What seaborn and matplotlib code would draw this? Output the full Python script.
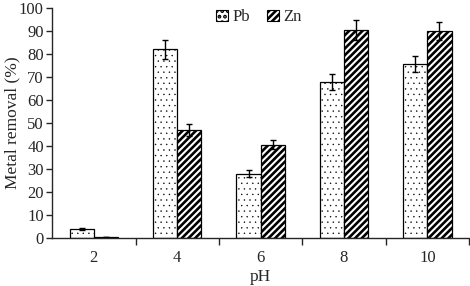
import numpy as np
import pandas as pd
import seaborn as sns
import matplotlib.pyplot as plt
from matplotlib.patches import Patch

# data
ph = ['2', '4', '6', '8', '10']
pb = [4.0, 82.0, 28.0, 68.0, 75.5]
zn = [0.3, 47.0, 40.5, 90.5, 90.0]
pb_err = [0.5, 4.0, 1.5, 3.5, 3.5]
zn_err = [0.0, 2.5, 2.0, 4.5, 4.0]
metals = ['Pb', 'Zn']

df = pd.DataFrame({
    'pH': ph * 2,
    'removal': pb + zn,
    'metal': ['Pb'] * len(ph) + ['Zn'] * len(ph),
})

sns.set_style('ticks')
plt.rcParams['font.family'] = ['Liberation Serif', 'DejaVu Serif']
plt.rcParams['hatch.linewidth'] = 1.9

fig = plt.figure(figsize=(4.7, 2.86), dpi=100)
ax = fig.add_axes([0.111, 0.168, 0.887, 0.804])

sns.barplot(data=df, x='pH', y='removal', hue='metal', order=ph,
            hue_order=metals, width=0.58, palette=['white', 'white'],
            edgecolor='black', linewidth=0.9, errorbar=None, ax=ax, legend=False)

hatches = ['...', '/////']


def style_bar(bar, h):
    bar.set_hatch(h)
    if h == '...':
        bar.set_hatch_linewidth(0.25)


# hatch the bars and add the error bars at their centres
for cont, h, errs in zip(ax.containers, hatches, [pb_err, zn_err]):
    xs, ys = [], []
    for bar in cont:
        style_bar(bar, h)
        xs.append(bar.get_x() + bar.get_width() / 2)
        ys.append(bar.get_height())
    ax.errorbar(xs, ys, yerr=errs, fmt='none', ecolor='black',
                elinewidth=1.0, capsize=2, capthick=1.0)

ax.set_ylim(0, 100)
ax.set_yticks(np.arange(0, 101, 10))
ax.set_xlim(-0.5, len(ph) - 0.5)
ax.set_xticks(np.arange(len(ph)) + 0.5, minor=True)
ax.tick_params(axis='x', which='major', length=0, labelsize=12, pad=9)
ax.tick_params(axis='x', which='minor', length=5, width=1, direction='out')
ax.tick_params(axis='y', length=4, width=1, labelsize=12, pad=2)
sns.despine(ax=ax)
ax.spines['left'].set_linewidth(1)
ax.spines['bottom'].set_linewidth(1)

ax.set_xlabel('pH', fontsize=12.5, labelpad=2)
ax.set_ylabel('Metal removal (%)', fontsize=12.5)
ax.yaxis.set_label_coords(-0.077, 0.5)

handles = []
for h in hatches:
    p = Patch(facecolor='white', edgecolor='black', hatch=h, linewidth=0.8)
    style_bar(p, h)
    handles.append(p)
ax.legend(handles, metals, loc='upper left', bbox_to_anchor=(0.357, 1.06),
          ncol=2, frameon=False, fontsize=12, handlelength=0.7,
          handleheight=0.7, handletextpad=0.3, columnspacing=1.0)

plt.savefig('out.png', dpi=100)
